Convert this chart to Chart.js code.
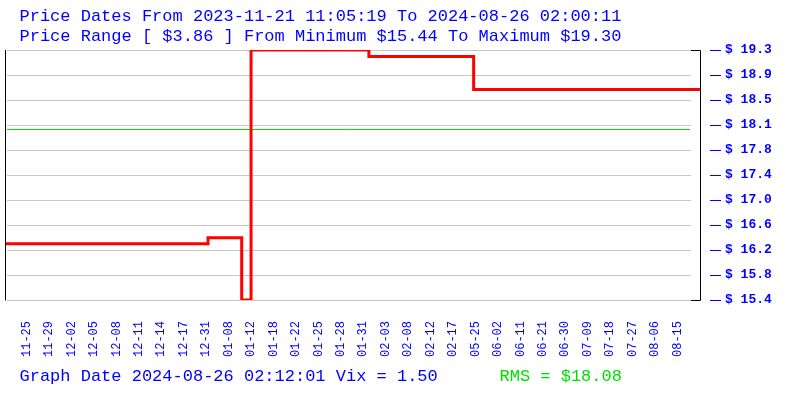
<!DOCTYPE html>
<html>
<head>
<meta charset="utf-8">
<script src="https://cdn.jsdelivr.net/npm/chart.js@4/dist/chart.umd.min.js"></script>
<style>
  html, body { margin: 0; padding: 0; background: #ffffff; }
  #wrap { width: 800px; height: 400px; }
</style>
</head>
<body>
<div id="wrap"><canvas id="c" width="800" height="400"></canvas></div>
<script>
// ---- data ----
const titleLine1 = 'Price Dates From 2023-11-21 11:05:19 To 2024-08-26 02:00:11';
const titleLine2 = 'Price Range [ $3.86 ] From Minimum $15.44 To Maximum $19.30';
const footerText = 'Graph Date 2024-08-26 02:12:01 Vix = 1.50';
const rmsText = 'RMS = $18.08';
const rmsValue = 18.08;

const dateLabels = ['11-25','11-29','12-02','12-05','12-08','12-11','12-14','12-17','12-31','01-08',
  '01-12','01-18','01-22','01-25','01-28','01-31','02-03','02-08','02-12','02-17',
  '05-25','06-02','06-11','06-21','06-30','07-09','07-18','07-27','08-06','08-15'];
const labelSampleIdx = [11,23,35,47,59,71,83,95,107,119,131,143,155,167,179,191,203,215,227,239,
  251,263,275,287,299,311,323,335,347,359];

const sampleCount = 372;
const changeSample = [0, 108, 126, 131, 194, 250, 371];
const changePrice  = [16.31, 16.40, 15.44, 19.30, 19.20, 18.69, 18.69];

const yMin = 15.44, yMax = 19.30;
const yTickValues = [15.44, 15.826, 16.212, 16.598, 16.984, 17.37, 17.756, 18.142, 18.528, 18.914, 19.30];
const yTickLabels = ['$ 15.4','$ 15.8','$ 16.2','$ 16.6','$ 17.0','$ 17.4','$ 17.8','$ 18.1','$ 18.5','$ 18.9','$ 19.3'];

const BLUE = '#0000ff', GREEN = '#00e000', RED = '#ff0000', GRID = '#c8c8c8';
const FONT = '"Liberation Mono", "DejaVu Sans Mono", monospace';

const overlay = {
  id: 'overlay',
  beforeDatasetsDraw(chart) {
    const { ctx, chartArea: a, scales: { y } } = chart;
    ctx.save();
    ctx.lineWidth = 1;
    ctx.strokeStyle = GRID;
    yTickValues.forEach(v => {
      const py = Math.round(y.getPixelForValue(v)) + 0.5;
      ctx.beginPath(); ctx.moveTo(a.left + 1, py); ctx.lineTo(a.right - 9, py); ctx.stroke();
    });
    ctx.strokeStyle = GREEN;
    const pr = Math.round(y.getPixelForValue(rmsValue)) + 0.5;
    ctx.beginPath(); ctx.moveTo(a.left + 1, pr); ctx.lineTo(a.right - 10, pr); ctx.stroke();
    ctx.restore();
  },
  afterDraw(chart) {
    const { ctx, chartArea: a, scales: { y } } = chart;
    ctx.save();
    ctx.lineWidth = 1;
    ctx.strokeStyle = '#000000';
    const top = Math.round(y.getPixelForValue(yMax)) + 0.5;
    const bot = Math.round(y.getPixelForValue(yMin)) + 0.5;
    // left axis
    ctx.beginPath(); ctx.moveTo(a.left - 0.5, top - 0.5); ctx.lineTo(a.left - 0.5, bot); ctx.stroke();
    // right bracket
    ctx.beginPath();
    ctx.moveTo(a.right - 9, top); ctx.lineTo(a.right + 0.5, top);
    ctx.lineTo(a.right + 0.5, bot); ctx.lineTo(a.right - 9, bot);
    ctx.stroke();
    // blue dashes by tick labels
    ctx.strokeStyle = BLUE;
    yTickValues.forEach(v => {
      const py = Math.round(y.getPixelForValue(v)) + 0.5;
      ctx.beginPath(); ctx.moveTo(a.right + 10, py); ctx.lineTo(a.right + 21, py); ctx.stroke();
    });
    // texts
    ctx.font = '17px ' + FONT;
    ctx.textBaseline = 'alphabetic';
    ctx.textAlign = 'left';
    ctx.fillStyle = BLUE;
    ctx.fillText(titleLine1, 19.5, 20.5);
    ctx.fillText(titleLine2, 19.5, 40.5);
    ctx.fillText(footerText, 19.5, 380.5);
    ctx.fillStyle = GREEN;
    ctx.fillText(rmsText, 499.5, 380.5);
    ctx.restore();
  }
};

new Chart(document.getElementById('c'), {
  type: 'line',
  data: {
    datasets: [{
      label: 'Price',
      data: changeSample.map((s, i) => ({ x: s, y: changePrice[i] })),
      borderColor: RED,
      backgroundColor: RED,
      borderWidth: 3,
      stepped: 'before',
      pointRadius: 0,
      fill: false
    }]
  },
  options: {
    responsive: false,
    animation: false,
    layout: { padding: { left: 6, top: 50, right: 0, bottom: 0 } },
    plugins: { legend: { display: false }, tooltip: { enabled: false }, title: { display: false } },
    scales: {
      x: {
        type: 'linear',
        min: 0,
        max: sampleCount - 1,
        grid: { display: false, drawTicks: false },
        border: { display: false },
        afterBuildTicks: (scale) => { scale.ticks = labelSampleIdx.map(v => ({ value: v })); },
        afterFit: (scale) => { scale.height = 100; },
        ticks: {
          autoSkip: false,
          maxRotation: 90,
          minRotation: 90,
          padding: 21,
          color: BLUE,
          font: { family: FONT, size: 12 },
          callback: (value, index) => dateLabels[index]
        }
      },
      y: {
        type: 'linear',
        position: 'right',
        min: yMin,
        max: yMax,
        grid: { display: false, drawTicks: false },
        border: { display: false },
        afterBuildTicks: (scale) => { scale.ticks = yTickValues.map(v => ({ value: v })); },
        afterFit: (scale) => { scale.width = 100; },
        ticks: {
          autoSkip: false,
          padding: 25,
          color: BLUE,
          font: { family: FONT, size: 13, weight: 'bold' },
          callback: (value, index) => yTickLabels[index]
        }
      }
    }
  },
  plugins: [overlay]
});
</script>
</body>
</html>
